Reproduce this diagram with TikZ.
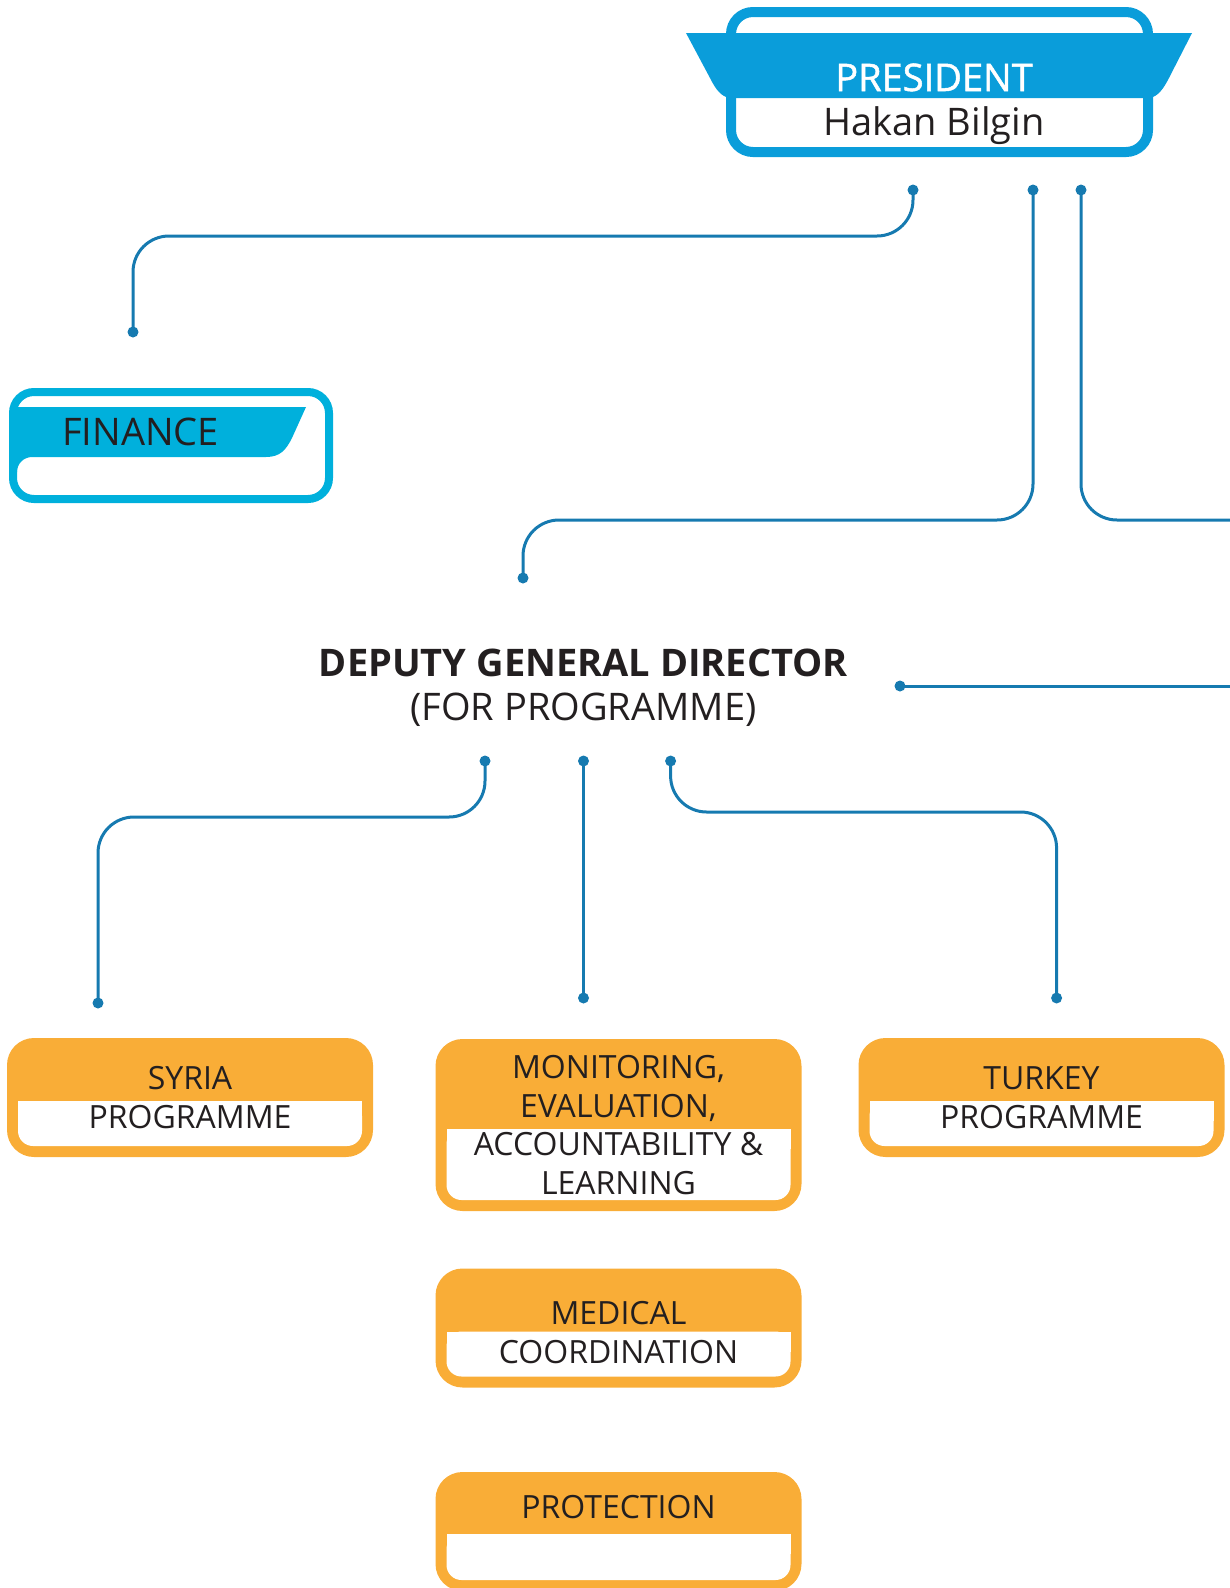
\documentclass[tikz,border=0pt]{standalone}
\usepackage{fontspec}
\setmainfont{Open Sans}
\newfontface\presface{Open Sans}[FakeBold=1.3]
\definecolor{presblue}{RGB}{10,157,218}
\definecolor{finblue}{RGB}{0,176,220}
\definecolor{lineblue}{RGB}{22,122,176}
\definecolor{boxorange}{RGB}{249,173,55}
\definecolor{textgray}{RGB}{35,31,32}
\tikzset{
  conn/.style={draw=lineblue,line width=3pt,rounded corners=36pt},
  dot/.style={circle,fill=lineblue,inner sep=0pt,minimum size=11pt},
  obox/.style 2 args={rectangle,fill=boxorange,rounded corners=27pt,
    minimum width=366pt,minimum height=#1,inner sep=0pt,text=textgray,
    align=center,font=\fontsize{32}{38.5}\selectfont,
    path picture={
      \fill[white,rounded corners=15pt]
        ([shift={(11pt,-#2)}]path picture bounding box.north west) rectangle
        ([shift={(-11pt,11pt)}]path picture bounding box.south east);
      \fill[white,sharp corners]
        ([shift={(11pt,-#2)}]path picture bounding box.north west) rectangle
        ([shift={(-11pt,-#2-20pt)}]path picture bounding box.north east);
    }},
  otext/.style={text=textgray,font=\fontsize{32}{38.5}\selectfont},
  btext/.style={font=\fontsize{38}{44}\selectfont}
}
\begin{document}
\begin{tikzpicture}[x=1pt,y=-1pt]
  \useasboundingbox (0,0) rectangle (1230,1588);
  % president
  \node[draw=presblue,fill=white,line width=10pt,rounded corners=22pt,
    minimum width=417pt,minimum height=140pt] (pres) at (939.5,82) {};
  \fill[presblue] (686,33) -- (1192,33) -- (1170,76)
    .. controls (1163,90) and (1158,96) .. (1150,98) -- (729,98)
    .. controls (721,96) and (716,90) .. (710,78) -- cycle;
  \node[btext,text=white,anchor=base] (pres-t) at (934,91) {\presface PRESIDENT};
  \node[btext,text=textgray,anchor=base] (pres-n) at (934,135) {Hakan Bilgin};
  % finance
  \node[draw=finblue,fill=white,line width=8pt,rounded corners=21pt,
    minimum width=316pt,minimum height=107pt] (fin) at (171,445.5) {};
  \fill[finblue] (17,407) -- (306,407) -- (292,438)
    .. controls (286,450) and (280,457) .. (266,457) -- (32,457)
    arc[start angle=90,end angle=180,radius=15pt] -- cycle;
  \node[btext,text=textgray,anchor=base west,inner sep=0pt] (fin-t) at (62,445) {FINANCE};
  % deputy
  \node[btext,text=textgray,align=center] (dgd) at (583.5,688)
    {\textbf{DEPUTY GENERAL DIRECTOR}\\(FOR PROGRAMME)};
  % units
  \node[obox={119pt}{63pt}] (syria) at (190,1097.5) {SYRIA\\PROGRAMME};
  \node[obox={172pt}{90pt}] (meal) at (618.5,1125)
    {MONITORING,\\EVALUATION,\\ACCOUNTABILITY \&\\LEARNING};
  \node[obox={119pt}{63pt}] (turkey) at (1041.5,1097.5) {TURKEY\\PROGRAMME};
  \node[obox={119pt}{63pt},text height=71pt] (medical) at (618.5,1328) {MEDICAL\\COORDINATION};
  \node[obox={119pt}{62pt}] (prot) at (618.5,1531.5) {};
  \node[otext,anchor=base] (prot-t) at (618.5,1518) {PROTECTION};
  % dots
  \node[dot] (pres-d1) at (913,190) {};
  \node[dot] (pres-d2) at (1033,190) {};
  \node[dot] (pres-d3) at (1081,190) {};
  \node[dot] (fin-d) at (133,332) {};
  \node[dot] (dgd-in) at (523,578) {};
  \node[dot] (dgd-out) at (900,686) {};
  \node[dot] (dgd-d1) at (485,761) {};
  \node[dot] (dgd-d2) at (583.5,761) {};
  \node[dot] (dgd-d3) at (670.6,761) {};
  \node[dot] (syria-d) at (98,1003) {};
  \node[dot] (meal-d) at (583.5,998) {};
  \node[dot] (turkey-d) at (1056.6,998) {};
  \coordinate (edge-a) at (1235,520);
  \coordinate (edge-b) at (1235,686);
  % connectors
  \draw[conn] (pres-d1.center) -- ++(0,46) -| (fin-d.center);
  \draw[conn] (pres-d2.center) -- ++(0,330) -| (dgd-in.center);
  \draw[conn] (pres-d3.center) |- (edge-a);
  \draw[conn] (dgd-out.center) -- (edge-b);
  \draw[conn] (dgd-d1.center) -- ++(0,56) -| (syria-d.center);
  \draw[conn] (dgd-d2.center) -- (meal-d.center);
  \draw[conn] (dgd-d3.center) -- ++(0,51) -| (turkey-d.center);
\end{tikzpicture}
\end{document}
